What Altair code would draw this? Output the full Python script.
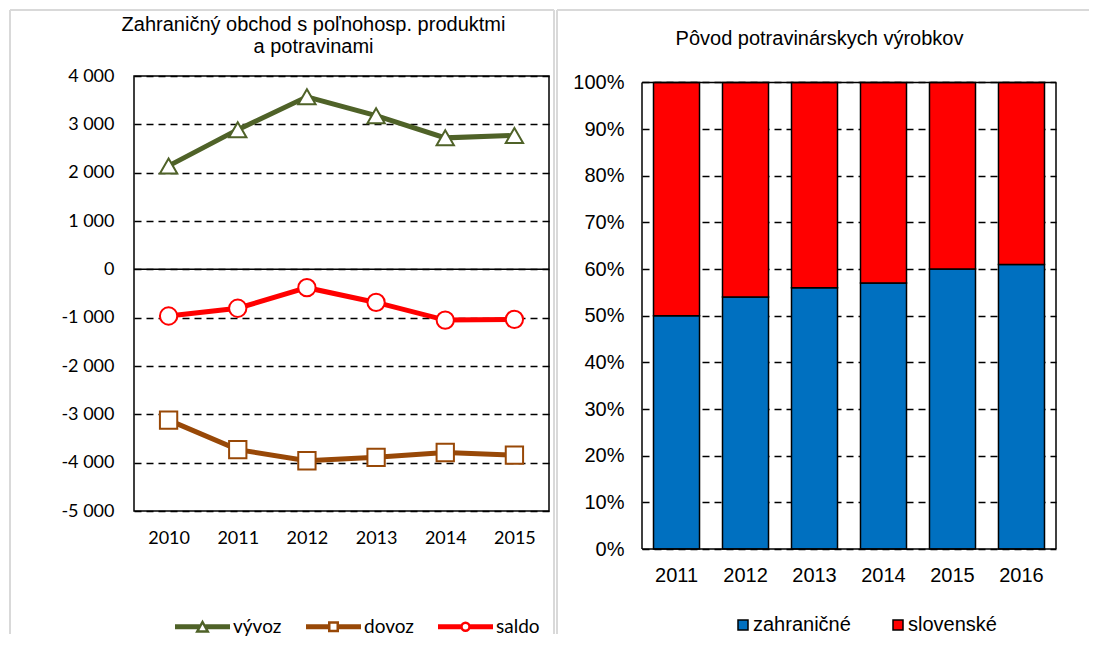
import altair as alt
import pandas as pd

# ---------------- data: left panel (trade) ----------------
trade_years = ["2010", "2011", "2012", "2013", "2014", "2015"]
vyvoz = [2140, 2890, 3570, 3180, 2720, 2770]
dovoz = [-3120, -3730, -3960, -3890, -3790, -3845]
saldo = [-965, -805, -380, -685, -1050, -1035]
trade_series = ["vývoz", "dovoz", "saldo"]
trade_colors = ["#4F6228", "#984807", "#FF0000"]
trade_shapes = ["triangle-up", "square", "circle"]
trade_ticks = [-5000, -4000, -3000, -2000, -1000, 0, 1000, 2000, 3000, 4000]
trade_title = ["Zahraničný obchod s poľnohosp. produktmi", "a potravinami"]

# ---------------- data: right panel (origin) ----------------
origin_years = ["2011", "2012", "2013", "2014", "2015", "2016"]
zahranicne = [50, 54, 56, 57, 60, 61]
slovenske = [50, 46, 44, 43, 40, 39]
origin_series = ["zahraničné", "slovenské"]
origin_colors = ["#0070C0", "#FF0000"]
pct_ticks = [0, 10, 20, 30, 40, 50, 60, 70, 80, 90, 100]
origin_title = "Pôvod potravinárskych výrobkov"

FRAME = "#D9D9D9"
LW, LH = 415, 435
RW, RH = 414, 473
R_TOP = 101.39  # the right plot starts a little above 100 %

trade_rows = []
for name, vals in zip(trade_series, [vyvoz, dovoz, saldo]):
    for y, v in zip(trade_years, vals):
        trade_rows.append({"year": y, "series": name, "value": v})
trade_df = pd.DataFrame(trade_rows)

origin_rows = []
for i, (name, vals) in enumerate(zip(origin_series, [zahranicne, slovenske])):
    for y, v in zip(origin_years, vals):
        origin_rows.append({"year": y, "origin": name, "value": v, "ord": i})
origin_df = pd.DataFrame(origin_rows)

one = pd.DataFrame({"k": [0]})


def vline(x, y1, y2):
    return alt.Chart(one).mark_rule(color=FRAME, strokeWidth=2).encode(
        x=alt.value(x), y=alt.value(y1), y2=alt.value(y2))


def hline(x1, x2, y):
    return alt.Chart(one).mark_rule(color=FRAME, strokeWidth=2).encode(
        x=alt.value(x1), x2=alt.value(x2), y=alt.value(y))


def title_line(text, x, y):
    return alt.Chart(one).mark_text(
        text=text, font="Liberation Sans", fontSize=20, color="black",
        align="center", baseline="alphabetic").encode(x=alt.value(x), y=alt.value(y))


# ---- legend symbols for the line chart: line segment + hollow marker ----
def poly(pts):
    return "M" + " L".join(f"{x:.3f},{y:.3f}" for x, y in pts) + " Z"


def rects(g):
    return (poly([(-5.25, -0.25), (-g, -0.25), (-g, 0.25), (-5.25, 0.25)]) + " " +
            poly([(g, -0.25), (5.25, -0.25), (5.25, 0.25), (g, 0.25)]))


tri_path = rects(0.8) + " " + poly([(0, -0.95), (1.05, 0.95), (-1.05, 0.95)])
sq_path = rects(1.1) + " " + poly([(-0.85, -0.85), (0.85, -0.85), (0.85, 0.85), (-0.85, 0.85)])
circ_path = rects(1.05) + " M-0.8,0 A0.8,0.8 0 1,1 0.8,0 A0.8,0.8 0 1,1 -0.8,0 Z"
legend_paths = [tri_path, sq_path, circ_path]


def pick(vals):
    expr = f"'{vals[-1]}'"
    for n, v in reversed(list(zip(trade_series[:-1], vals[:-1]))):
        expr = f"datum.value === '{n}' ? '{v}' : " + expr
    return expr


trade_legend = alt.Legend(
    orient="none", legendX=41, legendY=541, direction="horizontal", title=None,
    labelFont="Lato", labelFontSize=19, labelColor="black",
    labelOffset=21, symbolOffset=18, columnPadding=20, padding=0,
    symbolType=alt.ExprRef(expr=pick(legend_paths)),
    symbolSize=100, symbolStrokeWidth=2.5, symbolFillColor="white", symbolOpacity=1,
)

label_expr = "(datum.value < 0 ? '-' : '') + replace(format(abs(datum.value), ','), ',', ' ')"

x_l = alt.X("year:O", sort=trade_years,
            scale=alt.Scale(type="point", padding=0.5),
            axis=alt.Axis(title=None, labelAngle=0, labelFont="Lato", labelFontSize=18,
                          labelColor="black", labelPadding=18, ticks=False, tickSize=0,
                          domain=False, grid=False))
y_l = alt.Y("value:Q",
            scale=alt.Scale(domain=[-5000, 4000], nice=False, zero=False),
            axis=alt.Axis(title=None, values=trade_ticks, labelExpr=label_expr,
                          labelFont="Lato", labelFontSize=18, labelColor="black",
                          labelPadding=20, ticks=False, tickSize=0, domain=False,
                          grid=True, gridColor="black", gridDash=[7, 5], gridWidth=1.5))

zero_rule = alt.Chart(pd.DataFrame({"value": [0]})).mark_rule(
    color="black", strokeWidth=1.5).encode(y=y_l)
lines = alt.Chart(trade_df).mark_line(strokeWidth=5).encode(
    x=x_l, y=y_l,
    color=alt.Color("series:N", scale=alt.Scale(domain=trade_series, range=trade_colors),
                    legend=trade_legend))
marker_layers = [
    alt.Chart(trade_df).transform_filter(alt.datum.series == name).mark_point(
        shape=shp, color=col, filled=False, fill="white", size=300, strokeWidth=2, opacity=1
    ).encode(x=x_l, y=y_l)
    for name, shp, col in zip(trade_series, trade_shapes, trade_colors)
]

left = alt.layer(
    vline(-124, -66, 558), hline(-124, 420, -66), vline(420, -66, 558),
    title_line(trade_title[0], 179.5, -45), title_line(trade_title[1], 179.5, -23),
    zero_rule, lines, *marker_layers,
).properties(width=LW, height=LH,
             view=alt.ViewBackground(stroke="black", strokeWidth=1.5))

# ---------------- right chart ----------------
r_axis = alt.Axis(title=None, values=pct_ticks, labelExpr="datum.value + '%'",
                  labelFont="Liberation Sans", labelFontSize=20, labelColor="black",
                  labelPadding=18, ticks=False, tickSize=0, domain=False,
                  grid=True, gridColor="black", gridDash=[7, 5], gridWidth=1.5)
r_scale = alt.Scale(domain=[0, R_TOP], nice=False, zero=False)

x_r = alt.X("year:O", sort=origin_years,
            scale=alt.Scale(paddingInner=0.333, paddingOuter=0.1667),
            axis=alt.Axis(title=None, labelAngle=0, labelFont="Liberation Sans",
                          labelFontSize=20, labelColor="black", labelPadding=16,
                          ticks=False, tickSize=0, domain=False, grid=False))
bars = alt.Chart(origin_df).mark_bar(stroke="black", strokeWidth=1.5).encode(
    x=x_r,
    y=alt.Y("value:Q", stack="zero", scale=r_scale, axis=r_axis),
    color=alt.Color("origin:N", scale=alt.Scale(domain=origin_series, range=origin_colors),
                    legend=alt.Legend(orient="none", legendX=91, legendY=539,
                                      direction="horizontal", title=None,
                                      labelFont="Liberation Sans", labelFontSize=20,
                                      labelColor="black", labelOffset=0, columnPadding=37,
                                      symbolType="square", symbolSize=100,
                                      symbolStrokeColor="black", symbolStrokeWidth=1.5,
                                      padding=0)),
    order=alt.Order("ord:Q"),
)

# plot border of the right panel: from 0 % to 100 %
border_df = pd.DataFrame({"value": [0, 100]})
span_df = pd.DataFrame({"value": [0], "top": [100]})
r_hborder = alt.Chart(border_df).mark_rule(color="black", strokeWidth=1.5).encode(
    y=alt.Y("value:Q", scale=r_scale, axis=r_axis))
r_vborders = [
    alt.Chart(span_df).mark_rule(color="black", strokeWidth=1.5).encode(
        x=alt.value(xv), y=alt.Y("value:Q", scale=r_scale, axis=r_axis), y2="top:Q")
    for xv in (0, RW)
]

right = alt.layer(
    vline(-85, -66, 558), hline(-85, 447, -66),
    title_line(origin_title, 177.5, -31),
    bars, r_hborder, *r_vborders,
).properties(width=RW, height=RH, view=alt.ViewBackground(stroke=None))

chart = (
    alt.hconcat(left, right, spacing=0)
    .resolve_scale(color="independent")
    .resolve_legend(color="independent")
    .properties(padding=0)
)

chart.save("out.html", embed_options={"renderer": "svg", "actions": False})
